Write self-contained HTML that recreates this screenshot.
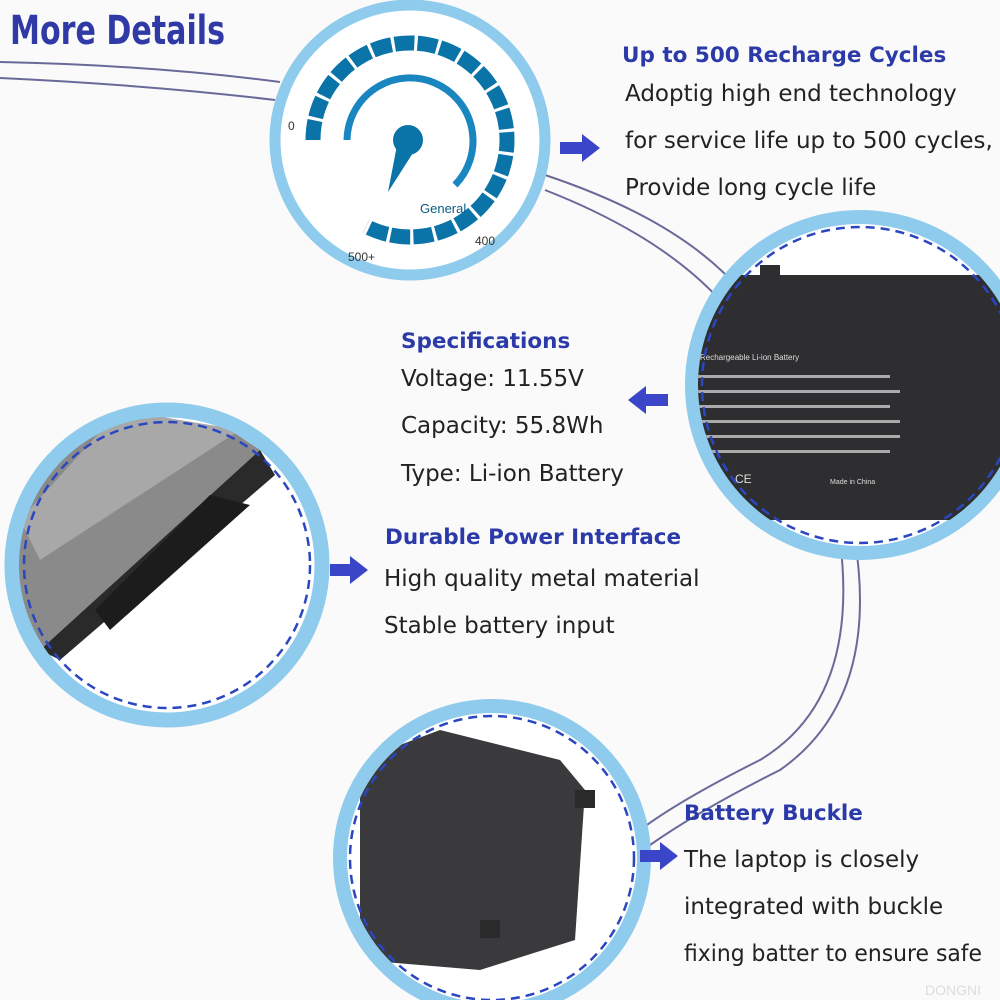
<!DOCTYPE html>
<html><head><meta charset="utf-8"><style>
html,body{margin:0;padding:0;background:#fafafa;}
svg{display:block}
.h{font-family:"DejaVu Sans","Liberation Sans",sans-serif;font-weight:bold;fill:#2b3aa8;}
.t{font-family:"DejaVu Sans","Liberation Sans",sans-serif;fill:#222;font-size:23px;}
</style></head><body>
<svg width="1000" height="1000" viewBox="0 0 1000 1000">
<defs>
<clipPath id="c2"><circle cx="860" cy="385" r="162"/></clipPath>
<clipPath id="c3"><circle cx="167" cy="565" r="148"/></clipPath>
<clipPath id="c4"><circle cx="492" cy="858" r="145"/></clipPath>
</defs>
<rect width="1000" height="1000" fill="#fafafa"/>
<g fill="none" stroke="#6a6a9a" stroke-width="2">
<path d="M0,62 Q150,65 280,82"/>
<path d="M0,78 Q150,85 275,100"/>
<path d="M545,175 Q680,220 740,290"/>
<path d="M545,190 Q660,235 720,300"/>
<path d="M840,540 Q860,700 760,760 Q680,800 640,830"/>
<path d="M855,540 Q880,700 780,770 Q700,810 650,845"/>
</g>
<text x="10" y="44" class="h" style="font-size:40px;fill:#2f3aa6" textLength="215" lengthAdjust="spacingAndGlyphs">More Details</text>

<!-- circle 1 -->
<circle cx="410" cy="140" r="135" fill="#fff" stroke="#8fcbec" stroke-width="11"/>
<path d="M313,140 A97,97 0 1 1 366,226.4" pathLength="297" fill="none" stroke="#0a73a8" stroke-width="15" stroke-dasharray="11.6 1.9"/>
<path d="M347,140 A63,63 0 1 1 455,185" fill="none" stroke="#1a86c0" stroke-width="7"/>
<circle cx="408" cy="140" r="15" fill="#0a73a8"/>
<polygon points="398,140 418,145 388,192" fill="#0a73a8"/>
<text x="288" y="130" font-family="Liberation Sans,sans-serif" font-size="12" fill="#333">0</text>
<text x="420" y="213" font-family="Liberation Sans,sans-serif" font-size="13" fill="#0a5b86">General</text>
<text x="475" y="245" font-family="Liberation Sans,sans-serif" font-size="12" fill="#333">400</text>
<text x="348" y="261" font-family="Liberation Sans,sans-serif" font-size="12" fill="#333">500+</text>

<!-- circle 2 -->
<circle cx="860" cy="385" r="168" fill="#fff" stroke="#8fcbec" stroke-width="14"/>
<g clip-path="url(#c2)">
<rect x="690" y="275" width="320" height="245" fill="#2e2e30"/>
<rect x="760" y="265" width="20" height="15" fill="#2e2e30"/>
<text x="700" y="360" font-family="Liberation Sans,sans-serif" font-size="8" fill="#ddd">Rechargeable Li-ion Battery</text>
<g fill="#aaa"><rect x="690" y="375" width="200" height="3"/><rect x="690" y="390" width="210" height="3"/><rect x="690" y="405" width="200" height="3"/><rect x="690" y="420" width="210" height="3"/><rect x="690" y="435" width="210" height="3"/><rect x="690" y="450" width="200" height="3"/></g>
<text x="735" y="483" font-family="Liberation Sans,sans-serif" font-size="12" fill="#ddd">CE</text>
<text x="830" y="484" font-family="Liberation Sans,sans-serif" font-size="7" fill="#ddd">Made in China</text>
</g>
<circle cx="860" cy="385" r="158" fill="none" stroke="#2a46c0" stroke-width="2.5" stroke-dasharray="9 6"/>

<!-- circle 3 -->
<circle cx="167" cy="565" r="155" fill="#fff" stroke="#8fcbec" stroke-width="15"/>
<g clip-path="url(#c3)">
<polygon points="0,400 230,430 260,450 40,650 0,660" fill="#8a8a8a"/>
<polygon points="120,410 240,430 40,560 20,520" fill="#a8a8a8"/>
<polygon points="260,450 275,475 60,660 40,650" fill="#2a2a2a"/>
<polygon points="210,495 250,505 110,630 95,610" fill="#1c1c1c"/>
</g>
<circle cx="167" cy="565" r="143" fill="none" stroke="#2a46c0" stroke-width="2.5" stroke-dasharray="9 6"/>

<!-- circle 4 -->
<circle cx="492" cy="858" r="152" fill="#fff" stroke="#8fcbec" stroke-width="14"/>
<g clip-path="url(#c4)">
<path d="M360,760 L440,730 L560,760 L585,790 L575,940 L480,970 L360,960 Z" fill="#3a3a3c"/>
<rect x="575" y="790" width="20" height="18" fill="#2a2a2a"/>
<rect x="480" y="920" width="20" height="18" fill="#2a2a2a"/>
</g>
<circle cx="492" cy="858" r="142" fill="none" stroke="#2a46c0" stroke-width="2.5" stroke-dasharray="9 6"/>

<g fill="#3a45c8">
<polygon points="560,142 582,142 582,134 600,148 582,162 582,154 560,154"/>
<polygon points="668,394 646,394 646,386 628,400 646,414 646,406 668,406"/>
<polygon points="330,564 350,564 350,556 368,570 350,584 350,576 330,576"/>
<polygon points="640,850 660,850 660,842 678,856 660,870 660,862 640,862"/>
</g>

<text x="622" y="62" class="h" style="font-size:21.5px">Up to 500 Recharge Cycles</text>
<text x="625" y="101" class="t">Adoptig high end technology</text>
<text x="625" y="148" class="t">for service life up to 500 cycles,</text>
<text x="625" y="195" class="t">Provide long cycle life</text>

<text x="401" y="348" class="h" style="font-size:21.5px">Specifications</text>
<text x="401" y="386" class="t">Voltage: 11.55V</text>
<text x="401" y="433" class="t">Capacity: 55.8Wh</text>
<text x="401" y="481" class="t">Type: Li-ion Battery</text>

<text x="385" y="544" class="h" style="font-size:21.5px">Durable Power Interface</text>
<text x="384" y="586" class="t">High quality metal material</text>
<text x="384" y="633" class="t">Stable battery input</text>

<text x="684" y="820" class="h" style="font-size:21.5px">Battery Buckle</text>
<text x="684" y="867" class="t">The laptop is closely</text>
<text x="684" y="914" class="t">integrated with buckle</text>
<text x="684" y="961" class="t" textLength="298" lengthAdjust="spacingAndGlyphs">fixing batter to ensure safe</text>
<text x="925" y="995" font-family="Liberation Sans,sans-serif" font-size="14" fill="#ddd">DONGNI</text>
</svg>
</body></html>
